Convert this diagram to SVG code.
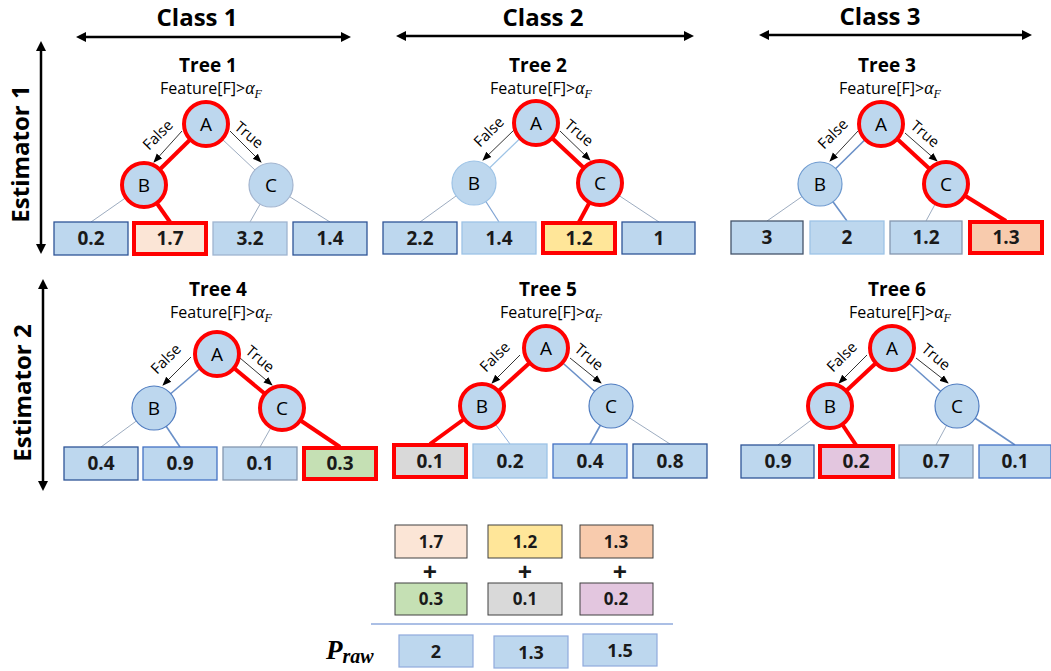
<svg xmlns="http://www.w3.org/2000/svg" width="1051" height="671" viewBox="0 0 1051 671">
  <defs>
    <marker id="bigHead" viewBox="0 0 10 10" refX="6" refY="5" markerWidth="4" markerHeight="4" orient="auto-start-reverse">
      <path d="M0,0 L10,5 L0,10 z" fill="#000"/>
    </marker>
    <marker id="smallHead" viewBox="0 0 10 10" refX="9" refY="5" markerWidth="9" markerHeight="9" markerUnits="userSpaceOnUse" orient="auto">
      <path d="M0,1 L10,5 L0,9 z" fill="#000"/>
    </marker>
    <style>
      .hdr { font-family: "Open Sans", "Liberation Sans", sans-serif; font-weight: bold; font-size: 24px; fill: #000; }
      .title { font-family: "Open Sans", "Liberation Sans", sans-serif; font-weight: bold; font-size: 19px; text-anchor: middle; fill: #000; }
      .feat { font-family: "Open Sans", "Liberation Sans", sans-serif; font-size: 16px; text-anchor: middle; fill: #000; }
      .math { font-family: "Liberation Serif", serif; font-style: italic; }
      .dir { font-family: "Open Sans", "Liberation Sans", sans-serif; font-size: 15px; text-anchor: middle; fill: #000; }
      .nlab { font-family: "Open Sans", "Liberation Sans", sans-serif; font-size: 19px; text-anchor: middle; fill: #000; }
      .val { font-family: "Open Sans", "Liberation Sans", sans-serif; font-weight: bold; font-size: 19px; text-anchor: middle; fill: #1a1a1a; }
      .sv { font-size: 17px; }
      .rv { font-size: 18px; }
      .node { fill: #bdd7ee; stroke: #6f93c8; stroke-width: 1.2; }
      .node.hot { stroke: #ff0000; stroke-width: 4; }
      .leaf { fill: #bdd7ee; stroke: #5877a8; stroke-width: 1.3; }
      .leaf.hot { stroke: #ff0000; stroke-width: 4; }
      .thin { stroke: #8497b0; stroke-width: 0.8; fill: none; }
      .blue { stroke: #6a90c8; stroke-width: 1.6; fill: none; }
      .red { stroke: #ff0000; stroke-width: 4; fill: none; }
      .dirarrow { stroke: #000; stroke-width: 0.8; fill: none; marker-end: url(#smallHead); }
      .axis { stroke: #000; stroke-width: 2.5; fill: none; marker-start: url(#bigHead); marker-end: url(#bigHead); }
      .sum { stroke: #404040; stroke-width: 1; }
      .res { fill: #bdd7ee; stroke: #8faadc; stroke-width: 1.2; }
    </style>
  </defs>

  <!-- axis headers -->
  <g id="headers">
    <text class="hdr" x="197" y="26" text-anchor="middle">Class 1</text>
    <text class="hdr" x="543" y="26" text-anchor="middle">Class 2</text>
    <text class="hdr" x="880" y="25" text-anchor="middle">Class 3</text>
    <line class="axis" x1="80" y1="37" x2="347" y2="37"/>
    <line class="axis" x1="400" y1="36" x2="690" y2="36"/>
    <line class="axis" x1="763" y1="35" x2="1028" y2="35"/>
    <line class="axis" x1="41" y1="45" x2="41" y2="250"/>
    <line class="axis" x1="43" y1="283" x2="43" y2="487"/>
    <text class="hdr" transform="translate(29,154) rotate(-90)" text-anchor="middle">Estimator 1</text>
    <text class="hdr" transform="translate(31,393) rotate(-90)" text-anchor="middle">Estimator 2</text>
  </g>

  <!-- connectors -->
  <g id="connectors">
    <!-- tree 1 -->
    <line class="red" x1="206" y1="124" x2="144" y2="185"/>
    <line class="thin" x1="206" y1="124" x2="271" y2="185"/>
    <line class="thin" x1="144" y1="185" x2="91" y2="222"/>
    <line class="red" x1="144" y1="185" x2="170" y2="222"/>
    <line class="thin" x1="271" y1="185" x2="250" y2="222"/>
    <line class="thin" x1="271" y1="185" x2="330" y2="222"/>
    <line class="dirarrow" x1="182" y1="131" x2="154" y2="162"/>
    <line class="dirarrow" x1="230" y1="131" x2="261" y2="162"/>
    <!-- tree 2 -->
    <line class="thin" style="stroke:#9dc3e6;stroke-width:1.2" x1="536" y1="123" x2="474" y2="183"/>
    <line class="red" x1="536" y1="123" x2="600" y2="183"/>
    <line class="thin" x1="474" y1="183" x2="420" y2="222"/>
    <line class="thin" style="stroke:#7fa3d3;stroke-width:1.2" x1="474" y1="183" x2="499" y2="222"/>
    <line class="red" x1="600" y1="183" x2="579" y2="222"/>
    <line class="thin" x1="600" y1="183" x2="659" y2="222"/>
    <line class="dirarrow" x1="514" y1="130" x2="483" y2="160"/>
    <line class="dirarrow" x1="560" y1="131" x2="590" y2="160"/>
    <!-- tree 3 -->
    <line class="blue" x1="881" y1="124" x2="820" y2="184"/>
    <line class="red" x1="881" y1="124" x2="946" y2="184"/>
    <line class="thin" x1="820" y1="184" x2="767" y2="221"/>
    <line class="blue" x1="820" y1="184" x2="847" y2="221"/>
    <line class="thin" x1="946" y1="184" x2="926" y2="221"/>
    <line class="red" x1="946" y1="184" x2="1006" y2="221"/>
    <line class="dirarrow" x1="858" y1="131" x2="830" y2="161"/>
    <line class="dirarrow" x1="905" y1="133" x2="937" y2="161"/>
    <!-- tree 4 -->
    <line class="blue" x1="217" y1="354" x2="154" y2="408"/>
    <line class="red" x1="217" y1="354" x2="282" y2="408"/>
    <line class="thin" x1="154" y1="408" x2="101" y2="447"/>
    <line class="blue" x1="154" y1="408" x2="180" y2="447"/>
    <line class="thin" x1="282" y1="408" x2="260" y2="447"/>
    <line class="red" x1="282" y1="408" x2="340" y2="447"/>
    <line class="dirarrow" x1="191" y1="357" x2="163" y2="385"/>
    <line class="dirarrow" x1="240" y1="358" x2="272" y2="385"/>
    <!-- tree 5 -->
    <line class="red" x1="546" y1="348" x2="482" y2="406"/>
    <line class="blue" x1="546" y1="348" x2="611" y2="406"/>
    <line class="red" x1="482" y1="406" x2="430" y2="444"/>
    <line class="thin" style="stroke:#8fb0dc;stroke-width:1" x1="482" y1="406" x2="510" y2="444"/>
    <line class="blue" x1="611" y1="406" x2="590" y2="444"/>
    <line class="thin" x1="611" y1="406" x2="670" y2="444"/>
    <line class="dirarrow" x1="520" y1="355" x2="492" y2="383"/>
    <line class="dirarrow" x1="570" y1="358" x2="601" y2="383"/>
    <!-- tree 6 -->
    <line class="red" x1="892" y1="348" x2="830" y2="406"/>
    <line class="blue" x1="892" y1="348" x2="957" y2="406"/>
    <line class="thin" x1="830" y1="406" x2="778" y2="445"/>
    <line class="red" x1="830" y1="406" x2="856" y2="445"/>
    <line class="thin" x1="957" y1="406" x2="936" y2="445"/>
    <line class="blue" x1="957" y1="406" x2="1015" y2="445"/>
    <line class="dirarrow" x1="867" y1="355" x2="839" y2="383"/>
    <line class="dirarrow" x1="916" y1="358" x2="948" y2="383"/>
  </g>

  <!-- Tree 1 -->
  <g id="tree1">
    <text class="title" x="208" y="72">Tree 1</text>
    <text class="feat" x="211" y="94">Feature[F]&gt;<tspan class="math" font-size="18">α</tspan><tspan class="math" font-size="12" dy="4">F</tspan></text>
    <text class="dir" transform="translate(158,135) rotate(-45)" y="5">False</text>
    <text class="dir" transform="translate(249,135) rotate(40)" y="5">True</text>
    <circle class="node hot" cx="206" cy="124" r="22"/><text class="nlab" x="206" y="131">A</text>
    <circle class="node hot" cx="144" cy="185" r="22"/><text class="nlab" x="144" y="192">B</text>
    <circle class="node" style="stroke:#a3b5cf" cx="271" cy="185" r="22"/><text class="nlab" x="271" y="192">C</text>
    <rect class="leaf" style="stroke:#2f5597" x="54" y="222" width="74" height="33"/><text class="val" x="91" y="245">0.2</text>
    <rect class="leaf hot" style="fill:#fbe5d6" x="134" y="223" width="72" height="31"/><text class="val" x="170" y="245">1.7</text>
    <rect class="leaf" style="stroke:#9fb4d0" x="213" y="222" width="74" height="33"/><text class="val" x="250" y="245">3.2</text>
    <rect class="leaf" style="stroke:#2f5597" x="293" y="222" width="74" height="33"/><text class="val" x="330" y="245">1.4</text>
  </g>

  <!-- Tree 2 -->
  <g id="tree2">
    <text class="title" x="538" y="72">Tree 2</text>
    <text class="feat" x="541" y="94">Feature[F]&gt;<tspan class="math" font-size="18">α</tspan><tspan class="math" font-size="12" dy="4">F</tspan></text>
    <text class="dir" transform="translate(489,132) rotate(-45)" y="5">False</text>
    <text class="dir" transform="translate(579,133) rotate(40)" y="5">True</text>
    <circle class="node hot" cx="536" cy="123" r="22"/><text class="nlab" x="536" y="130">A</text>
    <circle class="node" style="stroke:#9dc3e6" cx="474" cy="183" r="22"/><text class="nlab" x="474" y="190">B</text>
    <circle class="node hot" cx="600" cy="183" r="22"/><text class="nlab" x="600" y="190">C</text>
    <rect class="leaf" style="stroke:#2f5597" x="383" y="222" width="74" height="32"/><text class="val" x="420" y="245">2.2</text>
    <rect class="leaf" style="stroke:#9dc3e6" x="462" y="222" width="74" height="32"/><text class="val" x="499" y="245">1.4</text>
    <rect class="leaf hot" style="fill:#ffe699" x="543" y="223" width="72" height="30"/><text class="val" x="579" y="245">1.2</text>
    <rect class="leaf" style="stroke:#2f5597" x="622" y="222" width="73" height="32"/><text class="val" x="659" y="245">1</text>
  </g>

  <!-- Tree 3 -->
  <g id="tree3">
    <text class="title" x="887" y="72">Tree 3</text>
    <text class="feat" x="890" y="94">Feature[F]&gt;<tspan class="math" font-size="18">α</tspan><tspan class="math" font-size="12" dy="4">F</tspan></text>
    <text class="dir" transform="translate(833,134) rotate(-45)" y="5">False</text>
    <text class="dir" transform="translate(925,134) rotate(40)" y="5">True</text>
    <circle class="node hot" cx="881" cy="124" r="22"/><text class="nlab" x="881" y="131">A</text>
    <circle class="node" style="stroke:#6f9bd0" cx="820" cy="184" r="22"/><text class="nlab" x="820" y="191">B</text>
    <circle class="node hot" cx="946" cy="184" r="22"/><text class="nlab" x="946" y="191">C</text>
    <rect class="leaf" style="stroke:#44546a" x="731" y="221" width="72" height="33"/><text class="val" x="767" y="244">3</text>
    <rect class="leaf" style="stroke:#9dc3e6" x="810" y="221" width="74" height="33"/><text class="val" x="847" y="244">2</text>
    <rect class="leaf" style="stroke:#8497b0" x="890" y="221" width="72" height="33"/><text class="val" x="926" y="244">1.2</text>
    <rect class="leaf hot" style="fill:#f8cbad" x="970" y="222" width="72" height="31"/><text class="val" x="1006" y="244">1.3</text>
  </g>

  <!-- Tree 4 -->
  <g id="tree4">
    <text class="title" x="218" y="296">Tree 4</text>
    <text class="feat" x="221" y="318">Feature[F]&gt;<tspan class="math" font-size="18">α</tspan><tspan class="math" font-size="12" dy="4">F</tspan></text>
    <text class="dir" transform="translate(166,359) rotate(-45)" y="5">False</text>
    <text class="dir" transform="translate(260,359) rotate(40)" y="5">True</text>
    <circle class="node hot" cx="217" cy="354" r="22"/><text class="nlab" x="217" y="361">A</text>
    <circle class="node" style="stroke:#4f7cc0" cx="154" cy="408" r="22"/><text class="nlab" x="154" y="415">B</text>
    <circle class="node hot" cx="282" cy="408" r="22"/><text class="nlab" x="282" y="415">C</text>
    <rect class="leaf" style="stroke:#2f5597" x="64" y="447" width="74" height="33"/><text class="val" x="101" y="470">0.4</text>
    <rect class="leaf" style="stroke:#4472c4" x="143" y="447" width="74" height="33"/><text class="val" x="180" y="470">0.9</text>
    <rect class="leaf" style="stroke:#8497b0" x="223" y="447" width="74" height="33"/><text class="val" x="260" y="470">0.1</text>
    <rect class="leaf hot" style="fill:#c5e0b4" x="304" y="448" width="72" height="31"/><text class="val" x="340" y="470">0.3</text>
  </g>

  <!-- Tree 5 -->
  <g id="tree5">
    <text class="title" x="548" y="296">Tree 5</text>
    <text class="feat" x="551" y="318">Feature[F]&gt;<tspan class="math" font-size="18">α</tspan><tspan class="math" font-size="12" dy="4">F</tspan></text>
    <text class="dir" transform="translate(495,357) rotate(-45)" y="5">False</text>
    <text class="dir" transform="translate(589,357) rotate(40)" y="5">True</text>
    <circle class="node hot" cx="546" cy="348" r="22"/><text class="nlab" x="546" y="355">A</text>
    <circle class="node hot" cx="482" cy="406" r="22"/><text class="nlab" x="482" y="413">B</text>
    <circle class="node" style="stroke:#4f7cc0" cx="611" cy="406" r="22"/><text class="nlab" x="611" y="413">C</text>
    <rect class="leaf hot" style="fill:#d9d9d9" x="394" y="445" width="72" height="32"/><text class="val" x="430" y="468">0.1</text>
    <rect class="leaf" style="stroke:#9dc3e6" x="473" y="444" width="74" height="34"/><text class="val" x="510" y="468">0.2</text>
    <rect class="leaf" style="stroke:#4472c4" x="553" y="444" width="74" height="34"/><text class="val" x="590" y="468">0.4</text>
    <rect class="leaf" style="stroke:#2f5597" x="633" y="444" width="74" height="34"/><text class="val" x="670" y="468">0.8</text>
  </g>

  <!-- Tree 6 -->
  <g id="tree6">
    <text class="title" x="897" y="296">Tree 6</text>
    <text class="feat" x="900" y="318">Feature[F]&gt;<tspan class="math" font-size="18">α</tspan><tspan class="math" font-size="12" dy="4">F</tspan></text>
    <text class="dir" transform="translate(842,357) rotate(-45)" y="5">False</text>
    <text class="dir" transform="translate(936,357) rotate(40)" y="5">True</text>
    <circle class="node hot" cx="892" cy="348" r="22"/><text class="nlab" x="892" y="355">A</text>
    <circle class="node hot" cx="830" cy="406" r="22"/><text class="nlab" x="830" y="413">B</text>
    <circle class="node" style="stroke:#4f7cc0" cx="957" cy="406" r="22"/><text class="nlab" x="957" y="413">C</text>
    <rect class="leaf" style="stroke:#2f5597" x="741" y="445" width="73" height="33"/><text class="val" x="778" y="468">0.9</text>
    <rect class="leaf hot" style="fill:#e3c6df" x="820" y="446" width="73" height="31"/><text class="val" x="856" y="468">0.2</text>
    <rect class="leaf" style="stroke:#8497b0" x="899" y="445" width="74" height="33"/><text class="val" x="936" y="468">0.7</text>
    <rect class="leaf" style="stroke:#4472c4" x="979" y="445" width="72" height="33"/><text class="val" x="1015" y="468">0.1</text>
  </g>

  <!-- summed leaf values -->
  <g id="sum">
    <rect class="sum" fill="#fbe5d6" x="395" y="525" width="72" height="33"/><text class="val sv" x="431" y="548">1.7</text>
    <rect class="sum" fill="#ffe699" x="488" y="525" width="74" height="33"/><text class="val sv" x="525" y="548">1.2</text>
    <rect class="sum" fill="#f8cbad" x="580" y="525" width="73" height="33"/><text class="val sv" x="616" y="548">1.3</text>
    <text class="val" style="font-size:25px" x="430" y="581">+</text>
    <text class="val" style="font-size:25px" x="525" y="581">+</text>
    <text class="val" style="font-size:25px" x="620" y="581">+</text>
    <rect class="sum" fill="#c5e0b4" x="395" y="583" width="72" height="32"/><text class="val sv" x="431" y="605">0.3</text>
    <rect class="sum" fill="#d9d9d9" x="488" y="583" width="74" height="32"/><text class="val sv" x="525" y="605">0.1</text>
    <rect class="sum" fill="#e3c6df" x="580" y="583" width="73" height="32"/><text class="val sv" x="616" y="605">0.2</text>
    <line x1="371" y1="624" x2="673" y2="624" stroke="#8faadc" stroke-width="1.5"/>
  </g>

  <!-- raw scores -->
  <g id="raw">
    <text font-family="'Liberation Serif', serif" font-weight="bold" font-style="italic" font-size="27" x="326" y="659">P<tspan font-size="20" dy="4">raw</tspan></text>
    <rect class="res" x="399" y="635" width="74" height="32"/><text class="val rv" x="436" y="658">2</text>
    <rect class="res" x="494" y="636" width="74" height="32"/><text class="val rv" x="531" y="659">1.3</text>
    <rect class="res" x="583" y="634" width="74" height="32"/><text class="val rv" x="620" y="657">1.5</text>
  </g>
</svg>
